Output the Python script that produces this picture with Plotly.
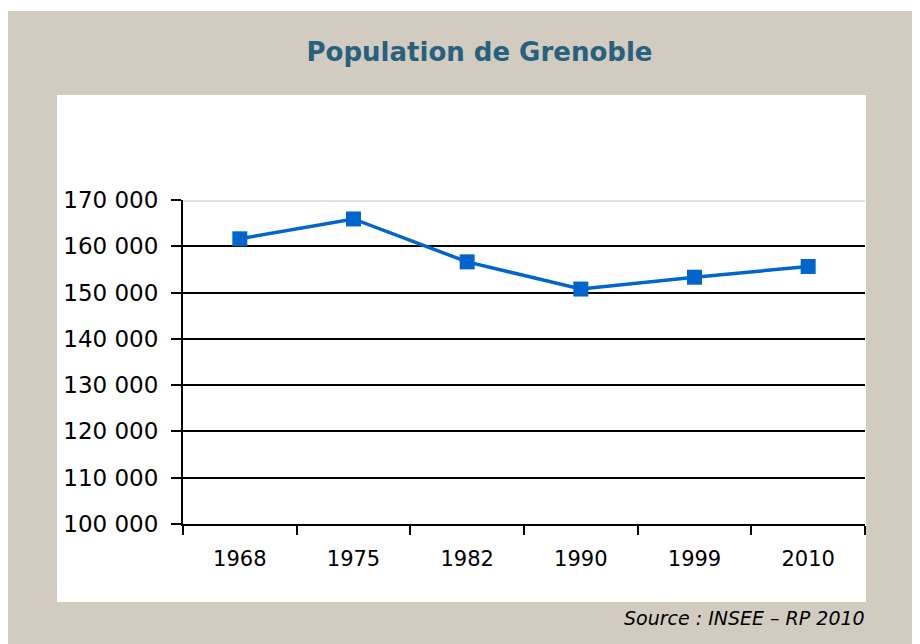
import plotly.graph_objects as go

years = ["1968", "1975", "1982", "1990", "1999", "2010"]
population = [161616, 165902, 156637, 150758, 153317, 155637]
y_tick_values = [100000, 110000, 120000, 130000, 140000, 150000, 160000, 170000]
y_tick_labels = ["100 000", "110 000", "120 000", "130 000", "140 000", "150 000", "160 000", "170 000"]

W, H = 920, 644
OFF = 8  # page body margin
L, R, T, B = 183 - OFF, 865 - OFF, 200 - OFF, 524 - OFF

def px(x):
    return (x - OFF - L) / (R - L)

def py(y):
    return (B - (y - OFF)) / (B - T)

fig = go.Figure()
fig.add_trace(go.Scatter(
    x=years, y=population, mode="lines+markers",
    line=dict(color="#0066CC", width=3.5),
    marker=dict(symbol="square", size=15, color="#0066CC"),
    showlegend=False, hoverinfo="x+y",
))

shapes = [
    dict(type="rect", xref="paper", yref="paper", x0=px(0), x1=px(940), y0=py(660), y1=py(11),
         fillcolor="#D2CBC0", line=dict(width=0), layer="below"),
    dict(type="rect", xref="paper", yref="paper", x0=px(57), x1=px(866), y0=py(602), y1=py(95),
         fillcolor="white", line=dict(width=0), layer="below"),
    dict(type="line", xref="paper", yref="y", x0=0, x1=1, y0=y_tick_values[-1], y1=y_tick_values[-1],
         line=dict(color="#C4C4C4", width=3), layer="above"),
    dict(type="line", xref="paper", yref="y", x0=0, x1=1, y0=y_tick_values[-1], y1=y_tick_values[-1],
         line=dict(color="#FFFFFF", width=1), layer="above"),
]

fig.update_layout(
    width=W, height=H,
    margin=dict(l=L, r=W - R, t=T, b=H - B, pad=0),
    paper_bgcolor="white",
    plot_bgcolor="rgba(0,0,0,0)",
    font=dict(family="DejaVu Sans", color="black"),
    shapes=shapes,
    title=dict(text="<b>Population de Grenoble</b>", x=(479.5 - OFF) / W, xref="container", xanchor="center",
               y=1 - (52 - OFF) / H, yref="container", yanchor="middle",
               font=dict(family="DejaVu Sans", size=26, color="#27617F")),
    annotations=[dict(text="<i>Source : INSEE – RP 2010</i>", xref="paper", yref="paper",
                      x=px(867), y=py(618), xanchor="right", yanchor="middle", showarrow=False,
                      font=dict(family="DejaVu Sans", size=19, color="black"))],
)

fig.update_xaxes(
    type="category", range=[-0.5, len(years) - 0.5],
    tickson="boundaries", ticks="outside", ticklen=9, tickwidth=2, tickcolor="black",
    showline=True, linecolor="black", linewidth=2, showgrid=False,
    tickfont=dict(size=21, color="black"), ticklabelstandoff=15,
)
fig.update_yaxes(
    range=[100000, 170000], tickvals=y_tick_values, ticktext=y_tick_labels,
    ticks="outside", ticklen=10, tickwidth=2, tickcolor="black",
    showline=True, linecolor="black", linewidth=2,
    showgrid=True, gridcolor="black", gridwidth=1.5, zeroline=False,
    tickfont=dict(size=23, color="black"), ticklabelstandoff=8,
)

fig.write_html("out.html")
